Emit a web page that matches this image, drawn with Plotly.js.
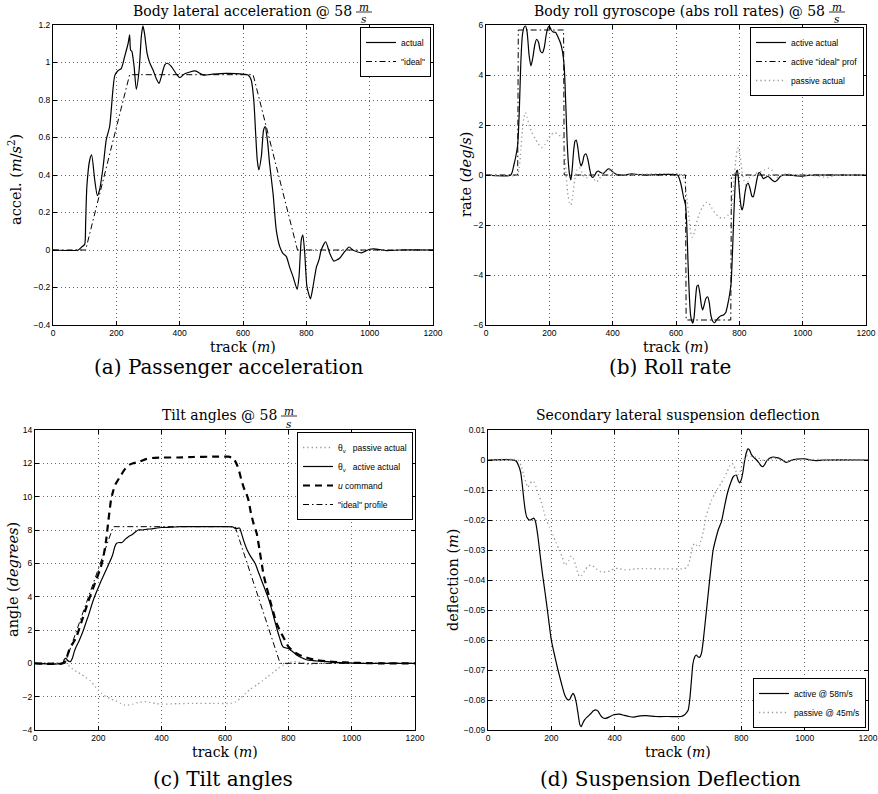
<!DOCTYPE html>
<html><head><meta charset="utf-8">
<script src="https://cdn.plot.ly/plotly-3.0.1.min.js"></script>
<style>html,body{margin:0;padding:0;background:#fff}#chart{width:878px;height:794px}</style>
</head><body><div id="chart"></div>
<script>
// ---------- DATA ----------
const trackTicks = [0, 200, 400, 600, 800, 1000, 1200];
const accelTicks = [-0.4, -0.2, 0, 0.2, 0.4, 0.6, 0.8, 1, 1.2];
const rateTicks = [-6, -4, -2, 0, 2, 4, 6];
const angleTicks = [-4, -2, 0, 2, 4, 6, 8, 10, 12, 14];
const deflTicks = [-0.09, -0.08, -0.07, -0.06, -0.05, -0.04, -0.03, -0.02, -0.01, 0, 0.01];

// (a) Passenger acceleration
const accActualX = [0,80,90,100,103,107,116,122,132,140,147,158,168,179,189,195,205,216,226,237,242,245,249,256,263,272,279,284,289,297,305,316,326,335,342,353,361,374,389,400,416,449,474,505,547,600,616,626,634,640,645,650,658,665,670,677,684,695,705,716,726,737,747,758,771,777,784,789,795,802,813,821,832,840,847,861,874,887,905,921,935,947,974,1000,1021,1053,1095,1200];
const accActualY = [0,0,0.015,0.03,0.14,0.34,0.48,0.507,0.37,0.29,0.32,0.44,0.586,0.66,0.85,0.93,0.956,0.969,1.03,1.10,1.147,1.067,1.06,0.98,0.857,0.96,1.14,1.195,1.155,1.05,1.0,0.96,0.915,0.889,0.924,0.987,0.996,0.978,0.94,0.919,0.94,0.955,0.933,0.938,0.942,0.938,0.933,0.907,0.8,0.62,0.48,0.427,0.5,0.64,0.658,0.587,0.46,0.30,0.107,0.018,-0.018,-0.035,-0.09,-0.142,-0.21,-0.14,0.053,0.08,-0.018,-0.195,-0.261,-0.196,-0.09,-0.053,0,0.044,-0.018,-0.059,-0.044,-0.009,0.016,0,-0.015,0.004,0.005,-0.003,0,0];
const accIdealX = [0,103,242,632,772,1200];
const accIdealY = [0,0,0.935,0.935,0,0];

// (b) Roll rate
const rollActiveX = [0,78,88,95,100,105,110,115,120,125,130,136,142,148,154,160,166,172,178,184,190,196,200,206,212,220,228,236,242,247,252,256,260,264,268,272,277,281,285,290,295,300,305,310,316,322,328,333,337,343,349,355,362,370,378,385,390,398,408,420,440,460,480,500,605,612,618,624,630,634,638,642,646,650,653,657,662,666,670,675,680,684,689,694,700,705,710,716,722,728,735,742,750,757,763,769,774,778,782,786,790,794,798,802,806,809,813,818,823,828,834,840,844,850,856,861,865,870,876,883,890,897,905,913,920,930,940,960,985,1000,1020,1050,1200];
const rollActiveY = [0,0,0.4,0.8,1.2,2.5,4.5,5.6,5.9,5.96,5.7,4.8,4.36,4.7,5.2,5.43,5.3,4.95,4.89,5.1,5.6,5.9,5.96,5.8,5.72,5.7,5.5,5.25,4.9,4.33,2.8,1.4,0.5,0.0,-0.2,0.2,1.0,1.35,1.4,1.1,0.6,0.36,0.5,0.78,0.84,0.6,0.2,-0.05,-0.1,-0.02,0.12,0.16,0.1,0.06,0.15,0.24,0.24,0.15,0.05,0,0,0.05,0.02,0,0,-0.2,-0.5,-0.9,-1.2,-2.0,-3.5,-4.8,-5.6,-5.85,-5.93,-5.7,-4.9,-4.45,-4.4,-4.7,-5.2,-5.4,-5.2,-4.95,-4.87,-5.1,-5.6,-5.85,-5.91,-5.8,-5.7,-5.63,-5.6,-5.5,-5.2,-4.8,-4.33,-3.2,-1.8,-0.6,0.1,0.2,-0.3,-0.9,-1.3,-1.4,-1.2,-0.7,-0.4,-0.33,-0.55,-0.85,-0.87,-0.55,-0.15,0.08,0.09,-0.02,-0.15,-0.1,-0.05,-0.12,-0.22,-0.27,-0.2,-0.05,0,0,-0.04,-0.05,-0.01,0,0];
const rollIdealX = [0,100,102,245,247,630,632,773,775,1200];
const rollIdealY = [0,0,5.8,5.8,0,0,-5.8,-5.8,0,0];
const rollPassiveX = [0,98,105,110,115,120,125,130,136,145,155,165,176,185,195,205,215,225,235,242,248,253,258,263,268,274,280,287,295,303,312,320,330,338,345,350,358,368,380,390,400,410,430,620,628,635,642,648,652,658,665,675,685,695,702,712,722,733,744,755,765,772,778,783,788,793,797,802,808,814,820,826,833,842,850,860,870,880,892,902,912,922,935,950,970,1000,1040,1080,1100,1130,1200];
const rollPassiveY = [0,0,0.3,1.0,1.8,2.3,2.5,2.3,2.0,1.7,1.45,1.25,1.1,1.2,1.4,1.6,1.7,1.65,1.55,1.5,1.0,0,-0.7,-1.1,-1.2,-0.8,-0.2,0.2,0.3,0.1,-0.1,-0.1,0.05,-0.05,-0.25,-0.27,-0.15,0.05,0.15,0.2,0.1,0,0,0,-0.3,-1.0,-1.8,-2.4,-2.5,-2.3,-1.9,-1.5,-1.25,-1.1,-1.1,-1.3,-1.5,-1.65,-1.73,-1.7,-1.6,-1.5,-1.0,-0.2,0.5,1.0,1.1,0.8,0.2,-0.2,-0.4,-0.3,-0.1,-0.05,0.05,0.1,0.15,0.2,0.27,0.2,0,-0.1,0,0.05,0,0,-0.03,-0.1,-0.02,0,0];

// (c) Tilt angles
const tiltPassiveX = [0,100,110,120,132,145,160,175,190,200,210,225,240,255,270,282,295,310,325,347,365,385,400,450,500,560,620,635,648,665,680,700,718,735,752,768,785,800,812,825,840,855,870,900,1200];
const tiltPassiveY = [0,0,-0.2,-0.35,-0.5,-0.65,-0.85,-1.05,-1.4,-1.6,-1.8,-2.0,-2.15,-2.25,-2.4,-2.5,-2.5,-2.45,-2.35,-2.3,-2.35,-2.42,-2.45,-2.42,-2.4,-2.4,-2.4,-2.3,-2.1,-1.8,-1.55,-1.3,-1.05,-0.8,-0.55,-0.3,-0.1,0,0.1,0.1,0.05,-0.05,-0.05,0,0];
const tiltActiveX = [0,88,93,98,104,112,118,124,130,138,146,153,162,171,179,188,199,210,222,234,245,252,258,265,275,285,295,305,315,326,340,355,370,385,400,430,460,520,600,625,632,640,646,652,660,670,680,695,705,715,725,735,745,755,765,773,780,785,793,800,810,820,830,840,850,860,875,890,910,930,950,975,1000,1040,1200];
const tiltActiveY = [0,0,0.25,0.3,0.15,0.1,0.3,0.7,1.0,1.3,1.65,2.0,2.5,3.0,3.5,4.0,4.5,5.0,5.5,6.0,6.5,7.0,7.2,7.25,7.25,7.45,7.6,7.7,7.85,8.0,8.0,8.05,8.07,8.12,8.15,8.17,8.2,8.2,8.2,8.18,8.1,8.1,8.12,7.8,7.3,6.8,6.45,6.0,5.5,5.0,4.5,4.0,3.4,2.7,2.0,1.5,1.1,0.96,0.92,0.9,0.75,0.6,0.45,0.35,0.27,0.2,0.17,0.14,0.12,0.09,0.06,0.03,0.02,0,0];
const uCommandX = [0,88,95,100,110,129,147,168,189,205,215,224,232,240,247,253,262,272,284,297,310,330,350,370,400,450,500,560,610,620,630,638,645,652,660,667,674,682,690,700,710,721,731,742,752,763,775,789,797,805,820,835,847,865,889,920,960,1000,1050,1100,1200];
const uCommandY = [0,0,0.2,0.35,0.9,1.5,2.5,3.7,4.8,5.6,6.3,7.3,8.6,9.8,10.35,10.7,11.0,11.3,11.65,11.9,12.0,12.1,12.25,12.32,12.35,12.35,12.38,12.4,12.4,12.35,12.2,11.9,11.5,11.0,10.5,10.2,9.8,9.0,8.4,7.8,6.7,5.4,4.6,3.8,3.1,2.4,1.9,1.4,1.1,0.9,0.65,0.5,0.4,0.3,0.2,0.12,0.07,0.04,0.01,0,0];
const tiltIdealX = [0,95,247,632,774,1200];
const tiltIdealY = [0,0,8.2,8.2,0,0];

// (d) Suspension deflection
const deflActiveX = [0,80,90,97,103,108,113,118,122,128,134,140,145,150,157,165,172,180,190,200,210,221,232,243,253,258,263,268,273,279,285,290,294,299,305,315,325,333,340,348,356,364,372,382,395,405,415,430,445,460,480,500,530,570,610,620,627,632,637,642,647,653,658,663,668,674,680,688,696,704,711,720,728,737,746,755,765,775,784,790,795,800,805,810,816,821,826,832,840,848,856,863,868,874,880,888,896,903,912,922,932,942,950,960,975,1000,1020,1035,1060,1200];
const deflActiveY = [0,0,-0.0005,-0.002,-0.004,-0.008,-0.013,-0.017,-0.0189,-0.0198,-0.02,-0.0196,-0.0194,-0.0205,-0.025,-0.032,-0.038,-0.044,-0.052,-0.06,-0.065,-0.07,-0.0745,-0.0785,-0.08,-0.0798,-0.0787,-0.0778,-0.0785,-0.081,-0.085,-0.0882,-0.0889,-0.0878,-0.0866,-0.0855,-0.0845,-0.0836,-0.0833,-0.0838,-0.0852,-0.086,-0.0861,-0.0857,-0.085,-0.0848,-0.0847,-0.0851,-0.0855,-0.0857,-0.0853,-0.0852,-0.0855,-0.0855,-0.0855,-0.085,-0.0842,-0.0834,-0.08,-0.074,-0.068,-0.0656,-0.065,-0.0656,-0.0658,-0.0645,-0.06,-0.052,-0.044,-0.036,-0.03,-0.026,-0.023,-0.0206,-0.016,-0.0115,-0.008,-0.0055,-0.005,-0.0068,-0.0076,-0.0065,-0.004,-0.0005,0.0025,0.0037,0.0033,0.0018,0.0008,0,-0.001,-0.002,-0.0022,-0.0015,-0.0003,0.0005,0.0009,0.001,0.0008,0.0005,-0.0002,-0.0008,-0.0005,0,0.0003,0.0004,0,-0.0002,0,0];
const deflPassiveX = [0,95,105,113,120,126,132,140,146,152,160,168,176,184,195,205,215,225,235,242,248,255,263,270,277,283,289,296,305,315,326,336,345,355,363,372,385,400,415,430,450,470,500,560,620,630,638,645,653,660,666,672,680,688,697,705,715,725,735,745,755,763,770,776,782,788,794,800,808,815,822,830,840,852,865,878,890,903,918,935,948,960,1200];
const deflPassiveY = [0,0,-0.002,-0.005,-0.0075,-0.0091,-0.008,-0.007,-0.0075,-0.009,-0.0115,-0.014,-0.017,-0.02,-0.0225,-0.025,-0.0275,-0.03,-0.0325,-0.035,-0.0345,-0.0335,-0.032,-0.033,-0.035,-0.0375,-0.0389,-0.0385,-0.037,-0.0355,-0.035,-0.0357,-0.0365,-0.0372,-0.0374,-0.0372,-0.037,-0.0362,-0.0362,-0.0366,-0.0365,-0.0362,-0.0362,-0.0363,-0.0362,-0.0355,-0.033,-0.029,-0.0278,-0.0285,-0.029,-0.027,-0.024,-0.019,-0.016,-0.0135,-0.0115,-0.0095,-0.008,-0.006,-0.004,-0.002,-0.0011,-0.0018,-0.0035,-0.005,-0.0045,-0.0025,0,0.0013,0.0015,0.0012,0.001,0.0008,0,-0.0002,0.0003,0.0006,0.0003,-0.0003,-0.0005,0,0];

// ---------- LAYOUT HELPERS ----------
const W = 878, H = 794;
const px = x => x / W;
const py = y => 1 - y / H;
const SERIF = '"DejaVu Serif", serif';
const SANS = '"Liberation Sans", Arial, sans-serif';
const BLACK = '#000';
const GREY = '#9a9a9a';

const solid = {color: BLACK, width: 1.2};
const dashdot = {color: BLACK, width: 1, dash: '6px,3px,1.5px,3px'};
const dotted = {color: GREY, width: 1.3, dash: '1.3px,3px'};
const thickdash = {color: BLACK, width: 2.2, dash: '7px,5px'};

function tr(x, y, name, line, ax, legend, shape) {
  return {x: x, y: y, name: name, type: 'scatter', mode: 'lines',
    line: Object.assign({shape: shape || 'linear', smoothing: 0.6}, line),
    xaxis: ax[0], yaxis: ax[1], legend: legend, hoverinfo: 'skip'};
}

const data = [
  tr(accActualX, accActualY, 'actual', solid, ['x', 'y'], 'legend', 'spline'),
  tr(accIdealX, accIdealY, '"ideal"', dashdot, ['x', 'y'], 'legend'),
  tr(rollActiveX, rollActiveY, 'active actual', solid, ['x2', 'y2'], 'legend2', 'spline'),
  tr(rollIdealX, rollIdealY, 'active "ideal" prof', dashdot, ['x2', 'y2'], 'legend2'),
  tr(rollPassiveX, rollPassiveY, 'passive actual', dotted, ['x2', 'y2'], 'legend2', 'spline'),
  tr(tiltPassiveX, tiltPassiveY, 'θ<sub>v</sub>   passive actual', dotted, ['x3', 'y3'], 'legend3', 'spline'),
  tr(tiltActiveX, tiltActiveY, 'θ<sub>v</sub>   active actual', solid, ['x3', 'y3'], 'legend3', 'spline'),
  tr(uCommandX, uCommandY, '<i>u</i> command', thickdash, ['x3', 'y3'], 'legend3', 'spline'),
  tr(tiltIdealX, tiltIdealY, '"ideal" profile', dashdot, ['x3', 'y3'], 'legend3'),
  tr(deflActiveX, deflActiveY, 'active @ 58m/s', solid, ['x4', 'y4'], 'legend4', 'spline'),
  tr(deflPassiveX, deflPassiveY, 'passive @ 45m/s', dotted, ['x4', 'y4'], 'legend4', 'spline')
];

const gridStyle = {showgrid: true, gridcolor: '#666', griddash: '1px,3px', gridwidth: 1};
function xax(x0, x1, anchor) {
  return Object.assign({domain: [px(x0), px(x1)], anchor: anchor, range: [0, 1200], tickvals: trackTicks,
    showline: true, mirror: 'ticks', linecolor: BLACK, linewidth: 1,
    ticks: 'inside', ticklen: 4, tickcolor: BLACK,
    zeroline: false, tickfont: {family: SANS, size: 8.5, color: BLACK}, fixedrange: true}, gridStyle);
}
function yax(y0, y1, anchor, range, ticks) {
  return Object.assign({domain: [py(y1), py(y0)], anchor: anchor, range: range, tickvals: ticks,
    showline: true, mirror: 'ticks', linecolor: BLACK, linewidth: 1,
    ticks: 'inside', ticklen: 4, tickcolor: BLACK,
    zeroline: false, tickfont: {family: SANS, size: 8.5, color: BLACK}, fixedrange: true}, gridStyle);
}
function leg(x, y, yanchor) {
  return {x: px(x), y: py(y), xanchor: 'right', yanchor: yanchor || 'top', xref: 'paper', yref: 'paper',
    bgcolor: '#fff', bordercolor: BLACK, borderwidth: 1, font: {family: SANS, size: 8.5, color: BLACK},
    tracegroupgap: 0, itemwidth: 30};
}

const ann = [];
const shapes = [];
function txt(x, y, text, size, opts) {
  ann.push(Object.assign({x: px(x), y: py(y), xref: 'paper', yref: 'paper', text: text, showarrow: false,
    font: {family: SERIF, size: size, color: BLACK}, xanchor: 'center', yanchor: 'middle', borderpad: 0}, opts || {}));
}
function titleWithFrac(text, xRight, yC) {
  txt(xRight, yC, text, 14, {xanchor: 'right'});
  const fx = xRight + 11;
  txt(fx, yC - 11, '<i>m</i>', 10.5, {yanchor: 'top'});
  txt(fx, yC + 1.5, '<i>s</i>', 10.5, {yanchor: 'top'});
  shapes.push({type: 'line', xref: 'paper', yref: 'paper', x0: px(fx - 8), x1: px(fx + 8), y0: py(yC + 1), y1: py(yC + 1), line: {color: BLACK, width: 0.8}});
}

// titles
titleWithFrac('Body lateral acceleration @ 58', 353, 11);
titleWithFrac('Body roll gyroscope (abs roll rates) @ 58', 826, 11);
titleWithFrac('Tilt angles @ 58', 278, 415);
txt(678, 415, 'Secondary lateral suspension deflection', 14);
// axis titles
txt(243, 346.5, 'track (<i>m</i>)', 14);
txt(676, 346.5, 'track (<i>m</i>)', 14);
txt(225, 751.5, 'track (<i>m</i>)', 14);
txt(678, 751.5, 'track (<i>m</i>)', 14);
txt(15, 180, 'accel. (<i>m</i>/<i>s</i><sup>2</sup>)', 14.5, {textangle: -90});
txt(466, 175, 'rate (<i>deg</i>/<i>s</i>)', 14.5, {textangle: -90});
txt(13, 580, 'angle (<i>degrees</i>)', 14.5, {textangle: -90});
txt(453, 580, 'deflection (<i>m</i>)', 14.5, {textangle: -90});
// captions
txt(229, 367, '(a) Passenger acceleration', 20);
txt(670, 367, '(b) Roll rate', 20);
txt(223, 779, '(c) Tilt angles', 20);
txt(670, 779, '(d) Suspension Deflection', 20);

const layout = {
  width: W, height: H, margin: {l: 0, r: 0, t: 0, b: 0}, paper_bgcolor: '#fff', plot_bgcolor: '#fff',
  showlegend: true,
  xaxis: xax(53, 433, 'y'), yaxis: yax(25, 325, 'x', [-0.4, 1.2], accelTicks),
  xaxis2: xax(486, 866, 'y2'), yaxis2: yax(25, 325, 'x2', [-6, 6], rateTicks),
  xaxis3: xax(35, 415, 'y3'), yaxis3: yax(430, 730, 'x3', [-4, 14], angleTicks),
  xaxis4: xax(488, 868, 'y4'), yaxis4: yax(430, 730, 'x4', [-0.09, 0.01], deflTicks),
  legend: leg(431, 27), legend2: leg(864, 27), legend3: leg(413, 432), legend4: leg(866, 728, 'bottom'),
  annotations: ann, shapes: shapes
};

Plotly.newPlot('chart', data, layout, {staticPlot: true, displayModeBar: false});
</script></body></html>
